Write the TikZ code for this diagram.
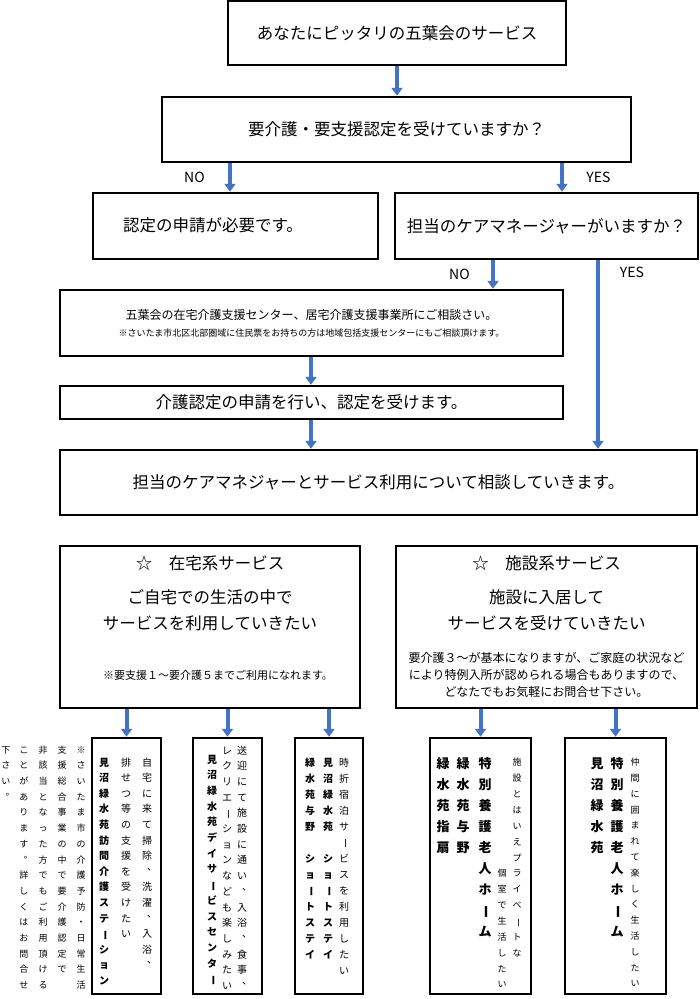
\documentclass[tikz,border=0pt]{standalone}
\usepackage{fontspec}
\setmainfont{Noto Sans CJK JP}
\usetikzlibrary{arrows.meta, positioning}
\definecolor{flowblue}{HTML}{4472C4}

\newcommand\fsL{\fontsize{16.5}{20}\selectfont}
\newcommand\fsM{\fontsize{12}{14}\selectfont}
\newcommand\fsR{\fontsize{11}{13}\selectfont}
\newcommand\fsS{\fontsize{10}{12}\selectfont}
\newcommand\fsXS{\fontsize{9}{11}\selectfont}
\newcommand\fsB{\fontsize{13}{15}\selectfont}
\newcommand\fsN{\fontsize{14}{16}\selectfont}

% vertical text: one character per line
\def\tateend{TATEEND}
\def\tategap{}
\newcommand\tate[2]{\vbox{\baselineskip=#1pt\lineskiplimit=-100pt\lineskip=0pt\tateloop#2\tateend}}
\def\tateloop#1{\ifx#1\tateend\else\tatechar{#1}\expandafter\tateloop\fi}
\def\tatechar#1{\hbox to 1.3em{\hss\vrule height.88em depth.12em width0pt\tateglyph{#1}\hss}}
\def\tateglyph#1{\ifx#1ー\rotatebox[origin=c]{-90}{ー}\else\ifx#1、\tatepunct{#1}\else\ifx#1。\tatepunct{#1}\else#1\fi\fi\fi}
\def\tatepunct#1{\raise.5em\hbox{\kern.5em#1}\kern-.5em}

\begin{document}
\begin{tikzpicture}[x=1pt,y=-1pt,
  box/.style={draw,line width=2.5pt,inner sep=0pt,align=center},
  flow/.style={flowblue,line width=4pt,-{Triangle[length=8pt,width=11pt]}},
  col/.style={inner sep=0pt,anchor=north},
  yesno/.style={font=\fsN,text=black}]
\useasboundingbox (0,0) rectangle (700,999);

% questions
\node[box,minimum width=338,minimum height=64,font=\fsL] (start) at (397,33) {あなたにピッタリの五葉会のサービス};
\node[box,minimum width=469,minimum height=65,font=\fsL] (q1) at (396.5,129.5) {要介護・要支援認定を受けていますか？};
\node[box,minimum width=285,minimum height=66] (apply) at (235.5,226) {};
\node[font=\fsL] (applytxt) at (213,225) {認定の申請が必要です。};
\node[box,minimum width=303,minimum height=66,font=\fsL] (cm) at (546.5,226) {担当のケアマネージャーがいますか？};
\node[box,minimum width=503,minimum height=66] (consult) at (311.5,323)
  {\fsM 五葉会の在宅介護支援センター、居宅介護支援事業所にご相談さい。\\[5pt]
   \fsXS ※さいたま市北区北部圏域に住民票をお持ちの方は地域包括支援センターにもご相談頂けます。};
\node[box,minimum width=503,minimum height=33,font=\fsL] (nintei) at (311.5,402.5) {介護認定の申請を行い、認定を受けます。};
\node[box,minimum width=637,minimum height=65,font=\fsL] (plan) at (378.5,482.5) {担当のケアマネジャーとサービス利用について相談していきます。};

\draw[flow] (start.south) -- (start.south |- q1.north);
\draw[flow] (q1.south -| 230,0) -- (apply.north -| 230,0) node[midway,left=20pt,yesno] (no1) {NO};
\draw[flow] (q1.south -| 562,0) -- (cm.north -| 562,0) node[midway,right=19pt,yesno] (yes1) {YES};
\draw[flow] (cm.south -| 493,0) -- (consult.north -| 493,0) node[midway,left=18pt,yesno] (no2) {NO};
\draw[flow] (cm.south -| 598,0) -- (plan.north -| 598,0);
\node[yesno] (yes2) at (632,272) {YES};
\draw[flow] (consult.south -| 311,0) -- (nintei.north -| 311,0);
\draw[flow] (nintei.south -| 311,0) -- (plan.north -| 311,0);

% services
\node[box,minimum width=300,minimum height=162] (home) at (210,627) {};
\node[font=\fsL] (hometitle) at (210,563) {☆　在宅系サービス};
\node[font=\fsL,align=center] (homewish) at (210,610) {ご自宅での生活の中で\\[6pt]サービスを利用していきたい};
\node[font=\fsR] (homenote) at (218,675) {※要支援１～要介護５までご利用になれます。};

\node[box,minimum width=301,minimum height=162] (fac) at (546.5,627) {};
\node[font=\fsL] (factitle) at (546.5,563) {☆　施設系サービス};
\node[font=\fsL,align=center] (facwish) at (546.5,610) {施設に入居して\\[6pt]サービスを受けていきたい};
\node[font=\fsM,align=center] (facnote) at (546.5,675) {要介護３～が基本になりますが、ご家庭の状況など\\[3pt]により特例入所が認められる場合もありますので、\\[3pt]どなたでもお気軽にお問合せ下さい。};

% bottom boxes
\node[box,minimum width=69,minimum height=256] (visit) at (126.5,866) {};
\node[box,minimum width=69,minimum height=256] (day) at (227.5,866) {};
\node[box,minimum width=68,minimum height=256] (short) at (329,866) {};
\node[box,minimum width=101,minimum height=256] (tokuyo) at (480.5,866) {};
\node[box,minimum width=101,minimum height=256] (tokumi) at (615.5,866) {};

\foreach \t in {visit,day,short,tokuyo,tokumi}
  \draw[flow] (home.south -| \t.north) -- (\t.north);

% note beside
\node[col,font=\fsXS] (note1) at (81,745) {\tate{15.7}{※さいたま市の介護予防・日常生活}};
\node[col,font=\fsXS] (note2) at (62,745) {\tate{15.7}{支援総合事業の中で要介護認定で}};
\node[col,font=\fsXS] (note3) at (43,745) {\tate{15.7}{非該当となった方でもご利用頂ける}};
\node[col,font=\fsXS] (note4) at (24,745) {\tate{15.7}{ことがあります。詳しくはお問合せ}};
\node[col,font=\fsXS] (note5) at (6,745) {\tate{15.7}{下さい。}};

% visit
\node[col,font=\fsS] (visit1) at (147,757) {\tate{15.6}{自宅に来て掃除、洗濯、入浴、}};
\node[col,font=\fsS] (visit2) at (126,757) {\tate{15.6}{排せつ等の支援を受けたい}};
\node[col,font=\fsS\bfseries] (visit3) at (104,757) {\tate{15.6}{見沼緑水苑訪問介護ステーション}};
% day
\node[col,font=\fsS] (day1) at (242,745) {\tate{15.7}{送迎にて施設に通い、入浴、食事、}};
\node[col,font=\fsS] (day2) at (227,745) {\tate{15.7}{レクリエーションなども楽しみたい}};
\node[col,font=\fsS\bfseries] (day3) at (212,754) {\tate{15.7}{見沼緑水苑デイサービスセンター}};
% short stay
\node[col,font=\fsS] (short1) at (344,757) {\tate{16}{時折宿泊サービスを利用したい}};
\node[col,font=\fsS\bfseries] (short2) at (328,757) {\tate{16}{見沼緑水苑\tategap ショートステイ}};
\node[col,font=\fsS\bfseries] (short3) at (310,757) {\tate{16}{緑水苑与野\tategap ショートステイ}};
% tokuyo
\node[col,font=\fsXS] (tokuyo1) at (517,757.5) {\tate{15.9}{施設とはいえプライベートな}};
\node[col,font=\fsXS] (tokuyo2) at (502,868.5) {\tate{15.9}{個室で生活したい}};
\node[col,font=\fsB\bfseries] (tokuyo3) at (485,756.5) {\tate{21}{特別養護老人ホーム}};
\node[col,font=\fsB\bfseries] (tokuyo4) at (463,756.5) {\tate{21}{緑水苑与野}};
\node[col,font=\fsB\bfseries] (tokuyo5) at (443,756.5) {\tate{21}{緑水苑指扇}};
% tokumi
\node[col,font=\fsXS] (tokumi1) at (635,757.5) {\tate{15.8}{仲間に囲まれて楽しく生活したい}};
\node[col,font=\fsB\bfseries] (tokumi2) at (617,756.5) {\tate{21}{特別養護老人ホーム}};
\node[col,font=\fsB\bfseries] (tokumi3) at (597,756.5) {\tate{21}{見沼緑水苑}};
\end{tikzpicture}
\end{document}
